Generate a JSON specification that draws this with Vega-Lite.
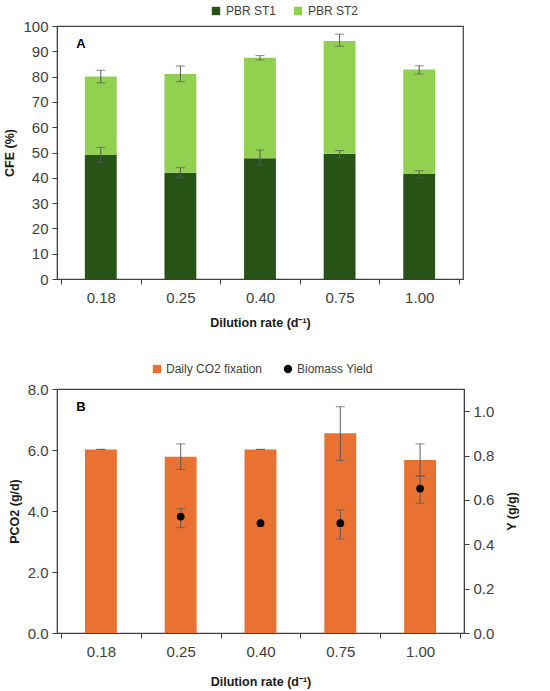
{
  "$schema": "https://vega.github.io/schema/vega-lite/v6.json",
  "padding": {"top": 4, "left": 3, "right": 2, "bottom": 2},
  "background": "white",
  "spacing": 32,
  "resolve": {"scale": {"color": "independent"}, "legend": {"color": "independent"}},
  "config": {
    "font": "Liberation Sans",
    "view": {"stroke": "#404040", "strokeWidth": 1.2},
    "axis": {
      "labelFont": "Liberation Sans", "labelFontSize": 15, "labelColor": "#404040", "labelOverlap": false,
      "titleFont": "Liberation Sans", "titleFontSize": 12.5, "titleFontWeight": "bold", "titleColor": "#1a1a1a",
      "domainColor": "#404040", "tickColor": "#404040", "tickSize": 5, "grid": false, "labelPadding": 4
    },
    "legend": {"labelFont": "Liberation Sans", "labelFontSize": 12, "labelColor": "#404040"}
  },
  "datasets": {
    "cfe": [
      {"D": "0.18", "series": "PBR ST1", "value": 49.0, "lo": 46.0, "hi": 52.0},
      {"D": "0.18", "series": "PBR ST2", "value": 31.0, "lo": 77.5, "hi": 82.5},
      {"D": "0.25", "series": "PBR ST1", "value": 42.0, "lo": 40.0, "hi": 44.0},
      {"D": "0.25", "series": "PBR ST2", "value": 39.0, "lo": 78.0, "hi": 84.2},
      {"D": "0.40", "series": "PBR ST1", "value": 47.7, "lo": 45.0, "hi": 51.0},
      {"D": "0.40", "series": "PBR ST2", "value": 39.8, "lo": 86.6, "hi": 88.3},
      {"D": "0.75", "series": "PBR ST1", "value": 49.5, "lo": 48.0, "hi": 50.8},
      {"D": "0.75", "series": "PBR ST2", "value": 44.6, "lo": 92.0, "hi": 96.8},
      {"D": "1.00", "series": "PBR ST1", "value": 41.5, "lo": 40.0, "hi": 42.8},
      {"D": "1.00", "series": "PBR ST2", "value": 41.3, "lo": 81.0, "hi": 84.3}
    ],
    "co2": [
      {"D": "0.18", "P": 6.02, "Plo": 6.02, "Phi": 6.02, "Y": null, "Ylo": null, "Yhi": null},
      {"D": "0.25", "P": 5.78, "Plo": 5.36, "Phi": 6.2, "Y": 0.525, "Ylo": 0.475, "Yhi": 0.56},
      {"D": "0.40", "P": 6.02, "Plo": 6.02, "Phi": 6.02, "Y": 0.495, "Ylo": null, "Yhi": null},
      {"D": "0.75", "P": 6.55, "Plo": 5.66, "Phi": 7.42, "Y": 0.495, "Ylo": 0.424, "Yhi": 0.555},
      {"D": "1.00", "P": 5.67, "Plo": 5.14, "Phi": 6.2, "Y": 0.651, "Ylo": 0.585, "Yhi": 0.709}
    ],
    "labels": [
      {"panel": "A", "D": "0.18", "v": 92.8},
      {"panel": "B", "D": "0.18", "v": 7.4}
    ]
  },
  "vconcat": [
    {
      "width": 406,
      "height": 253,
      "layer": [
        {
          "data": {"name": "cfe"},
          "mark": {"type": "bar", "width": {"band": 0.4}},
          "encoding": {
            "x": {"field": "D", "type": "ordinal", "scale": {"paddingInner": 0, "paddingOuter": 0.05},
              "axis": {"title": "Dilution rate (d⁻¹)", "labelAngle": 0, "tickBand": "extent", "labelPadding": 6, "titlePadding": 11}},
            "y": {"field": "value", "type": "quantitative", "stack": "zero",
              "scale": {"domain": [0, 100]},
              "axis": {"title": "CFE (%)", "values": [0,10,20,30,40,50,60,70,80,90,100], "titlePadding": 6}},
            "color": {"field": "series", "type": "nominal",
              "scale": {"domain": ["PBR ST1", "PBR ST2"], "range": ["#275317", "#92D050"]},
              "legend": {"title": null, "orient": "none", "direction": "horizontal", "legendX": 153, "legendY": -21, "symbolType": "square", "symbolSize": 70, "columnPadding": 15, "labelOffset": 4}},
            "order": {"field": "series"}
          }
        },
        {
          "data": {"name": "cfe"},
          "mark": {"type": "rule", "color": "#595959", "strokeWidth": 1},
          "encoding": {
            "x": {"field": "D", "type": "ordinal"},
            "y": {"field": "lo", "type": "quantitative", "axis": {"title": "CFE (%)", "values": [0,10,20,30,40,50,60,70,80,90,100], "titlePadding": 6}},
            "y2": {"field": "hi"}
          }
        },
        {
          "data": {"name": "cfe"},
          "mark": {"type": "tick", "color": "#595959", "size": 9, "thickness": 1},
          "encoding": {
            "x": {"field": "D", "type": "ordinal"},
            "y": {"field": "lo", "type": "quantitative", "axis": {"title": "CFE (%)", "values": [0,10,20,30,40,50,60,70,80,90,100], "titlePadding": 6}}
          }
        },
        {
          "data": {"name": "cfe"},
          "mark": {"type": "tick", "color": "#595959", "size": 9, "thickness": 1},
          "encoding": {
            "x": {"field": "D", "type": "ordinal"},
            "y": {"field": "hi", "type": "quantitative", "axis": {"title": "CFE (%)", "values": [0,10,20,30,40,50,60,70,80,90,100], "titlePadding": 6}}
          }
        },
        {
          "data": {"name": "labels"},
          "transform": [{"filter": "datum.panel === 'A'"}],
          "mark": {"type": "text", "fontWeight": "bold", "fontSize": 13, "align": "center", "baseline": "middle", "dx": 20, "color": "#000000"},
          "encoding": {
            "x": {"field": "D", "type": "ordinal", "bandPosition": 0},
            "y": {"field": "v", "type": "quantitative", "axis": {"title": "CFE (%)", "values": [0,10,20,30,40,50,60,70,80,90,100], "titlePadding": 6}},
            "text": {"field": "panel"}
          }
        }
      ]
    },
    {
      "width": 407,
      "height": 244,
      "data": {"name": "co2"},
      "layer": [
        {
          "layer": [
            {
              "mark": {"type": "bar", "width": {"band": 0.4}},
              "encoding": {
                "x": {"field": "D", "type": "ordinal", "scale": {"paddingInner": 0, "paddingOuter": 0.05},
                  "axis": {"title": "Dilution rate (d⁻¹)", "labelAngle": 0, "tickBand": "extent", "labelPadding": 6, "titlePadding": 16}},
                "y": {"field": "P", "type": "quantitative", "scale": {"domain": [0, 8]},
                  "axis": {"title": "PCO2 (g/d)", "values": [0,2,4,6,8], "format": ".1f", "titlePadding": 6}},
                "color": {"datum": "Daily CO2 fixation", "type": "nominal",
                  "scale": {"domain": ["Daily CO2 fixation", "Biomass Yield"], "range": ["#E97132", "#000000"]},
                  "legend": {"title": null, "orient": "none", "direction": "horizontal", "legendX": 94, "legendY": -26, "symbolSize": 70, "columnPadding": 19, "labelOffset": 3,
                    "encode": {"symbols": {"update": {"shape": {"signal": "datum.value === 'Biomass Yield' ? 'circle' : 'square'"}}}}}}
              }
            },
            {
              "mark": {"type": "rule", "color": "#595959", "strokeWidth": 1},
              "encoding": {
                "x": {"field": "D", "type": "ordinal"},
                "y": {"field": "Plo", "type": "quantitative", "axis": {"title": "PCO2 (g/d)", "values": [0,2,4,6,8], "format": ".1f", "titlePadding": 6}},
                "y2": {"field": "Phi"}
              }
            },
            {
              "mark": {"type": "tick", "color": "#595959", "size": 9, "thickness": 1},
              "encoding": {
                "x": {"field": "D", "type": "ordinal"},
                "y": {"field": "Plo", "type": "quantitative", "axis": {"title": "PCO2 (g/d)", "values": [0,2,4,6,8], "format": ".1f", "titlePadding": 6}}
              }
            },
            {
              "mark": {"type": "tick", "color": "#595959", "size": 9, "thickness": 1},
              "encoding": {
                "x": {"field": "D", "type": "ordinal"},
                "y": {"field": "Phi", "type": "quantitative", "axis": {"title": "PCO2 (g/d)", "values": [0,2,4,6,8], "format": ".1f", "titlePadding": 6}}
              }
            },
            {
              "data": {"name": "labels"},
              "transform": [{"filter": "datum.panel === 'B'"}],
              "mark": {"type": "text", "fontWeight": "bold", "fontSize": 13, "align": "center", "baseline": "middle", "dx": 20, "color": "#000000"},
              "encoding": {
                "x": {"field": "D", "type": "ordinal", "bandPosition": 0},
                "y": {"field": "v", "type": "quantitative", "axis": {"title": "PCO2 (g/d)", "values": [0,2,4,6,8], "format": ".1f", "titlePadding": 6}},
                "text": {"field": "panel"}
              }
            }
          ]
        },
        {
          "layer": [
            {
              "mark": {"type": "rule", "color": "#595959", "strokeWidth": 1},
              "encoding": {
                "x": {"field": "D", "type": "ordinal"},
                "y": {"field": "Ylo", "type": "quantitative", "scale": {"domain": [0, 1.1]},
                  "axis": {"orient": "right", "title": "Y (g/g)", "values": [0,0.2,0.4,0.6,0.8,1.0], "format": ".1f", "titleAngle": 270, "titleBaseline": "top", "titlePadding": 12}},
                "y2": {"field": "Yhi"}
              }
            },
            {
              "mark": {"type": "tick", "color": "#595959", "size": 9, "thickness": 1},
              "encoding": {
                "x": {"field": "D", "type": "ordinal"},
                "y": {"field": "Ylo", "type": "quantitative", "axis": {"orient": "right", "title": "Y (g/g)", "values": [0,0.2,0.4,0.6,0.8,1.0], "format": ".1f", "titleAngle": 270, "titleBaseline": "top", "titlePadding": 12}}
              }
            },
            {
              "mark": {"type": "tick", "color": "#595959", "size": 9, "thickness": 1},
              "encoding": {
                "x": {"field": "D", "type": "ordinal"},
                "y": {"field": "Yhi", "type": "quantitative", "axis": {"orient": "right", "title": "Y (g/g)", "values": [0,0.2,0.4,0.6,0.8,1.0], "format": ".1f", "titleAngle": 270, "titleBaseline": "top", "titlePadding": 12}}
              }
            },
            {
              "mark": {"type": "point", "filled": true, "size": 60, "opacity": 1},
              "encoding": {
                "x": {"field": "D", "type": "ordinal"},
                "y": {"field": "Y", "type": "quantitative", "axis": {"orient": "right", "title": "Y (g/g)", "values": [0,0.2,0.4,0.6,0.8,1.0], "format": ".1f", "titleAngle": 270, "titleBaseline": "top", "titlePadding": 12}},
                "color": {"datum": "Biomass Yield", "type": "nominal"}
              }
            }
          ]
        }
      ],
      "resolve": {"scale": {"y": "independent"}}
    }
  ]
}
